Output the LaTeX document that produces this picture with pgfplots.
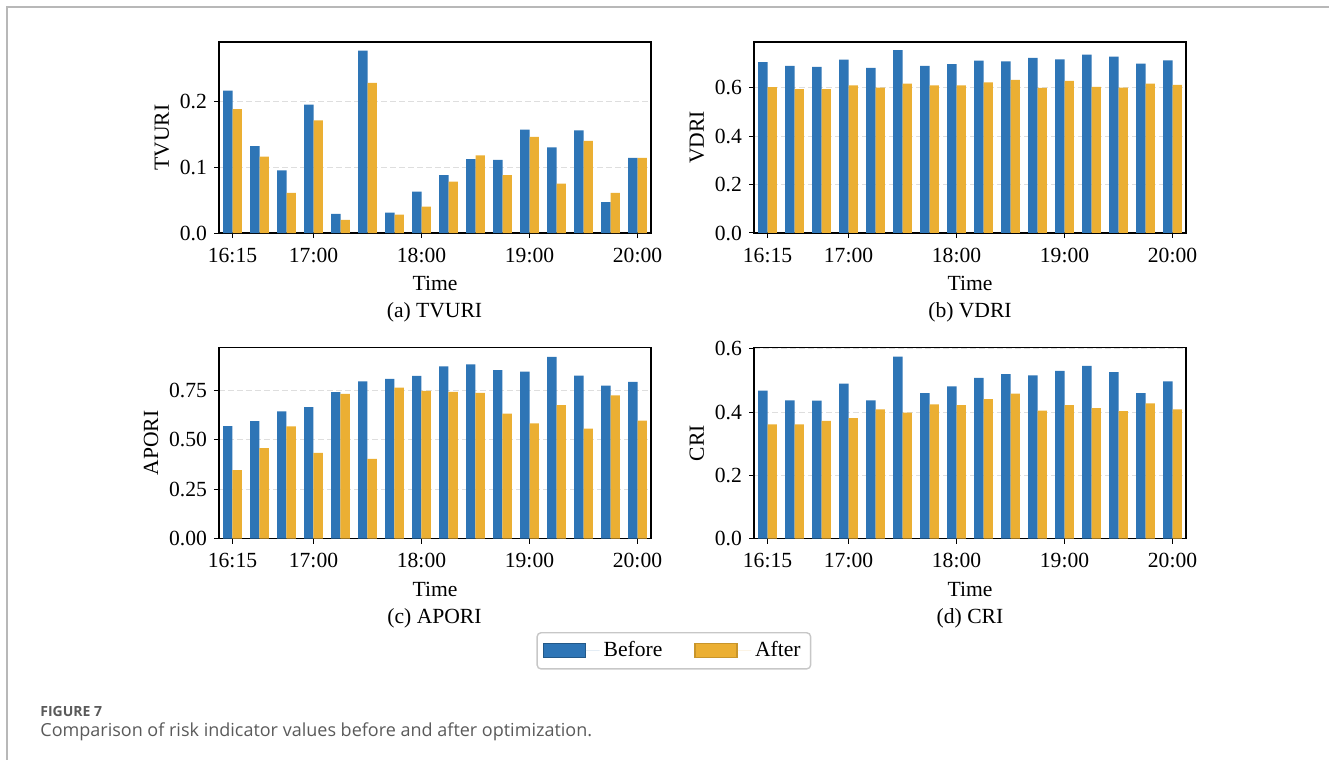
\documentclass[border=0pt]{standalone}
\usepackage{fontspec}
\setmainfont{Liberation Serif}
\newfontfamily\capfont{Open Sans}
\usepackage{pgfplots}
\usepackage{pgfplotstable}
\pgfplotsset{compat=1.18}
\definecolor{cblue}{HTML}{2E75B6}
\definecolor{corange}{HTML}{EBAF33}
\definecolor{capgray}{HTML}{5A5A5A}

\pgfplotstableread{
x b a
0 0.216 0.188
1 0.132 0.116
2 0.095 0.061
3 0.195 0.171
4 0.029 0.020
5 0.277 0.228
6 0.031 0.028
7 0.063 0.040
8 0.088 0.078
9 0.112 0.118
10 0.111 0.088
11 0.157 0.146
12 0.130 0.075
13 0.156 0.140
14 0.047 0.061
15 0.114 0.114
}\tabA

\pgfplotstableread{
x b a
0 0.706 0.603
1 0.690 0.594
2 0.686 0.594
3 0.716 0.610
4 0.682 0.601
5 0.755 0.617
6 0.690 0.610
7 0.698 0.610
8 0.712 0.622
9 0.709 0.633
10 0.723 0.600
11 0.717 0.628
12 0.737 0.604
13 0.729 0.601
14 0.700 0.617
15 0.713 0.612
}\tabB

\pgfplotstableread{
x b a
0 0.569 0.346
1 0.595 0.458
2 0.644 0.568
3 0.666 0.434
4 0.742 0.733
5 0.796 0.404
6 0.809 0.765
7 0.824 0.748
8 0.872 0.743
9 0.882 0.738
10 0.853 0.633
11 0.846 0.584
12 0.921 0.676
13 0.826 0.557
14 0.775 0.726
15 0.794 0.598
}\tabC

\pgfplotstableread{
x b a
0 0.468 0.361
1 0.437 0.361
2 0.436 0.372
3 0.490 0.381
4 0.437 0.408
5 0.575 0.398
6 0.460 0.424
7 0.481 0.422
8 0.508 0.441
9 0.520 0.458
10 0.516 0.404
11 0.530 0.422
12 0.546 0.412
13 0.526 0.403
14 0.460 0.427
15 0.497 0.408
}\tabD

\newcommand{\chfont}{\fontsize{10.8}{13}\selectfont}

\pgfplotsset{
  riskax/.style={
    scale only axis, width=216pt, height=95.5pt, anchor=north west,
    xmin=-0.5, xmax=15.5, ymin=0,
    ybar, bar width=0.35,
    xtick={0,3,7,11,15}, xticklabels={16:15,17:00,18:00,19:00,20:00},
    tick pos=left, tick align=outside, major tick length=2.5pt,
    tick style={black, line width=0.5pt},
    axis line style={line width=0.6pt, black},
    ymajorgrids, grid style={dash pattern=on 3pt off 1.5pt, color=black!13, line width=0.5pt},
    xlabel={Time},
    tick label style={font=\chfont},
    label style={font=\chfont},
    xticklabel style={yshift=-1.5pt},
    /pgf/number format/assume math mode=true,
    yticklabel style={/pgf/number format/.cd, fixed, fixed zerofill, precision=1},
    xlabel style={yshift=0pt},
    ylabel style={yshift=-1.5pt},
  },
  bbar/.style={fill=cblue, draw=none, bar shift=-0.175,
    legend image code/.code={\draw[sharp corners, fill=cblue, draw=cblue!75!black, line width=0.6pt] (0pt,-3.5pt) rectangle (21pt,3.5pt); \path (0pt,0pt) -- (28pt,0pt);}},
  abar/.style={fill=corange, draw=none, bar shift=0.175,
    legend image code/.code={\draw[sharp corners, fill=corange, draw=corange!85!black, line width=0.6pt] (0pt,-3.5pt) rectangle (21pt,3.5pt); \path (0pt,0pt) -- (28pt,0pt);}},
}

\begin{document}
\begin{tikzpicture}
\useasboundingbox (0pt,0pt) rectangle (664.5pt,-380pt);
\draw[black!28, line width=0.7pt] (3.5pt,-380pt) -- (3.5pt,-3.5pt) -- (664.5pt,-3.5pt);

% (a)
\begin{axis}[riskax, at={(109.5pt,-21pt)}, ymax=0.29, ytick={0,0.1,0.2}, ylabel={TVURI}]
\addplot[bbar] table[x=x,y=b]{\tabA};
\addplot[abar] table[x=x,y=a]{\tabA};
\end{axis}
\node[font=\chfont] at (217.25pt,-156pt) {(a) TVURI};

% (b)
\begin{axis}[riskax, at={(377pt,-21pt)}, ymax=0.789, ytick={0,0.2,0.4,0.6}, ylabel={VDRI}]
\addplot[bbar] table[x=x,y=b]{\tabB};
\addplot[abar] table[x=x,y=a]{\tabB};
\end{axis}
\node[font=\chfont] at (485pt,-156pt) {(b) VDRI};

% (c)
\begin{axis}[riskax, at={(109.5pt,-173.75pt)}, ymax=0.968, ytick={0,0.25,0.5,0.75}, ylabel={APORI},
  yticklabel style={/pgf/number format/.cd, fixed, fixed zerofill, precision=2},
  legend columns=2,
  legend style={at={(1.053,-0.588)}, anchor=center, draw=black!22, rounded corners=2pt, line width=0.7pt,
    font=\chfont, inner xsep=3pt, inner ysep=2.5pt,
    /tikz/every even column/.append style={column sep=14pt}, cells={anchor=west}}]
\addplot[bbar] table[x=x,y=b]{\tabC};
\addlegendentry{Before}
\addplot[abar] table[x=x,y=a]{\tabC};
\addlegendentry{After}
\end{axis}
\node[font=\chfont] at (217.25pt,-309pt) {(c) APORI};

% (d)
\begin{axis}[riskax, at={(377pt,-173.75pt)}, ymax=0.604, ytick={0,0.2,0.4,0.6}, ylabel={CRI}]
\addplot[bbar] table[x=x,y=b]{\tabD};
\addplot[abar] table[x=x,y=a]{\tabD};
\end{axis}
\node[font=\chfont] at (485pt,-309pt) {(d) CRI};

\node[anchor=base west, font=\capfont\bfseries\fontsize{7}{8}\selectfont, text=capgray, inner sep=0pt] at (20pt,-358pt) {FIGURE 7};
\node[anchor=base west, font=\capfont\fontsize{9}{11}\selectfont, text=capgray, inner sep=0pt] at (20pt,-368pt) {Comparison of risk indicator values before and after optimization.};
\end{tikzpicture}
\end{document}
